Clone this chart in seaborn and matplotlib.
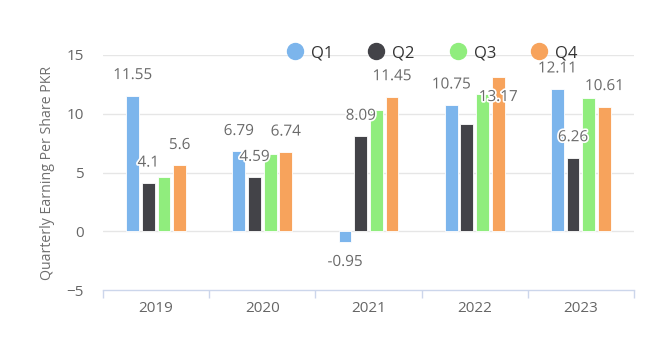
import matplotlib
matplotlib.use("Agg")
import matplotlib.pyplot as plt
import matplotlib.patheffects as pe
from matplotlib.lines import Line2D
import seaborn as sns
import pandas as pd
import numpy as np

years = ["2019", "2020", "2021", "2022", "2023"]
quarters = ["Q1", "Q2", "Q3", "Q4"]
q1 = [11.55, 6.79, -0.95, 10.75, 12.11]
q2 = [4.1, 4.59, 8.09, 9.1, 6.26]
q3 = [4.6, 6.6, 10.3, 11.7, 11.3]
q4 = [5.6, 6.74, 11.45, 13.17, 10.61]
# which value labels are visible in the reference (others hidden by overlap)
show_q1 = [True, True, True, True, True]
show_q2 = [True, True, True, False, True]
show_q3 = [False, False, False, False, False]
show_q4 = [True, True, True, True, True]

colors = ["#7cb5ec", "#434348", "#90ed7d", "#f7a35c"]

series = [q1, q2, q3, q4]
shows = [show_q1, show_q2, show_q3, show_q4]
df = pd.DataFrame({
    "Year": [y for s in series for y in years],
    "Quarter": [q for q, s in zip(quarters, series) for _ in s],
    "Value": [v for s in series for v in s],
})

sns.set_theme(style="white")
plt.rcParams["font.family"] = ["Open Sans", "DejaVu Sans"]

fig = plt.figure(figsize=(6.62, 3.45), dpi=100)
ax = fig.add_axes([103 / 662, 55 / 345, (634 - 103) / 662, (290 - 55) / 345])

sns.barplot(data=df, x="Year", y="Value", hue="Quarter", order=years,
            hue_order=quarters, palette=colors, width=0.59, gap=0.18,
            edgecolor="white", linewidth=0.6, ax=ax, legend=False,
            saturation=1)

ax.set_ylim(-5, 15)
ax.set_xlim(-0.5, len(years) - 0.5)
ax.set_yticks([-5, 0, 5, 10, 15])
for yv in [0, 5, 10, 15]:
    ax.axhline(yv, color="#e6e6e6", lw=1, zorder=0)

for sp in ["top", "right", "left"]:
    ax.spines[sp].set_visible(False)
ax.spines["bottom"].set_color("#ccd6eb")
ax.spines["bottom"].set_linewidth(1)

ax.tick_params(axis="x", which="major", bottom=False, length=0, colors="#666666",
               labelsize=11, pad=8)
ax.set_xticks(np.arange(-0.5, len(years), 1.0), minor=True)
ax.tick_params(axis="x", which="minor", bottom=True, length=6, color="#ccd6eb", width=1)
ax.tick_params(axis="y", left=False, length=0, colors="#666666", labelsize=11, pad=14)
ax.set_xlabel("")
ax.set_ylabel("Quarterly Earning Per Share PKR", color="#6e6e6e", fontsize=10.2, labelpad=8)

label_shift = {(3, 3): -41}  # 13.17 label moved down in reference (px)
for qi, cont in enumerate(ax.containers):
    for yi, bar in enumerate(cont):
        if not shows[qi][yi]:
            continue
        v = series[qi][yi]
        x = bar.get_x() + bar.get_width() / 2
        off = 20 if v >= 0 else -20
        off += label_shift.get((qi, yi), 0)
        ax.annotate(f"{v:g}", (x, v), xytext=(0, off * 0.72), textcoords="offset points",
                    ha="center", va="center", fontsize=11, color="#6a6a6a",
                    path_effects=[pe.withStroke(linewidth=2.5, foreground="white")],
                    zorder=5)

handles = [Line2D([0], [0], marker="o", linestyle="", markersize=11.5,
                  markerfacecolor=c, markeredgecolor=c) for c in colors]
fig.legend(handles, quarters, loc="center", bbox_to_anchor=(432 / 662, 1 - 53 / 345),
           ncol=4, frameon=False, fontsize=12, labelcolor="#333333",
           handletextpad=0.45, columnspacing=2.1, handlelength=1.0)

fig.savefig("out.png", dpi=100)
